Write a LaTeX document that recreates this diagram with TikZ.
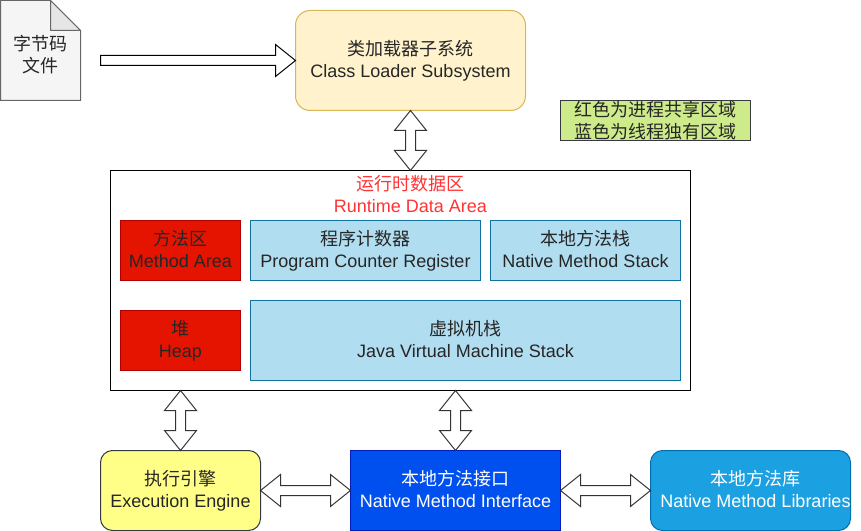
\documentclass[tikz,border=0pt]{standalone}
\usepackage{fontspec}
\setmainfont{Liberation Sans}
\newfontfamily\cjk{Noto Sans CJK SC}
\usetikzlibrary{calc}
\definecolor{loaderfill}{HTML}{FFF2CC}
\definecolor{loaderline}{HTML}{D6B656}
\definecolor{notefill}{HTML}{CDEB8B}
\definecolor{darkline}{HTML}{36393D}
\definecolor{titlered}{HTML}{FF3333}
\definecolor{redfill}{HTML}{E51400}
\definecolor{redline}{HTML}{B20000}
\definecolor{bluefill}{HTML}{B1DDF0}
\definecolor{blueline}{HTML}{10739E}
\definecolor{enginefill}{HTML}{FFFF88}
\definecolor{ifacefill}{HTML}{0050EF}
\definecolor{ifaceline}{HTML}{001DBC}
\definecolor{libfill}{HTML}{1BA1E2}
\definecolor{libline}{HTML}{006EAF}
\definecolor{docfill}{HTML}{F5F5F5}
\definecolor{docfold}{HTML}{E6E6E6}
\definecolor{docline}{HTML}{666666}
\newcommand{\lowline}{\vphantom{gy}}
\tikzset{box/.style 2 args={draw, align=center, inner sep=0pt, outer sep=0pt, line width=0.75pt,
    minimum width=#1*0.75pt, minimum height=#2*0.75pt,
    font=\fontsize{13.5}{16.5}\selectfont}}
\tikzset{redbox/.style={fill=redfill, draw=redline, text=black!85}}
\tikzset{bluebox/.style={fill=bluefill, draw=blueline, text=black!85}}
\tikzset{blockboth/.style={draw=black!80, fill=white, line width=0.75pt, to path={
    -- ($(\tikztostart)!15pt!(\tikztotarget)!12pt!90:(\tikztotarget)$)
    -- ($(\tikztostart)!15pt!(\tikztotarget)!3.75pt!90:(\tikztotarget)$)
    -- ($(\tikztotarget)!15pt!(\tikztostart)!3.75pt!-90:(\tikztostart)$)
    -- ($(\tikztotarget)!15pt!(\tikztostart)!12pt!-90:(\tikztostart)$)
    -- (\tikztotarget)
    -- ($(\tikztotarget)!15pt!(\tikztostart)!12pt!90:(\tikztostart)$)
    -- ($(\tikztotarget)!15pt!(\tikztostart)!3.75pt!90:(\tikztostart)$)
    -- ($(\tikztostart)!15pt!(\tikztotarget)!3.75pt!-90:(\tikztotarget)$)
    -- ($(\tikztostart)!15pt!(\tikztotarget)!12pt!-90:(\tikztotarget)$)
    -- cycle}}}
\tikzset{blockone/.style={draw=black, fill=white, line width=0.75pt, to path={
    -- ($(\tikztostart)!3.75pt!90:(\tikztotarget)$)
    -- ($(\tikztotarget)!15pt!(\tikztostart)!3.75pt!-90:(\tikztostart)$)
    -- ($(\tikztotarget)!15pt!(\tikztostart)!12pt!-90:(\tikztostart)$)
    -- (\tikztotarget)
    -- ($(\tikztotarget)!15pt!(\tikztostart)!12pt!90:(\tikztostart)$)
    -- ($(\tikztotarget)!15pt!(\tikztostart)!3.75pt!90:(\tikztostart)$)
    -- ($(\tikztostart)!3.75pt!-90:(\tikztotarget)$)
    -- cycle}}}

\begin{document}
\begin{tikzpicture}[x=0.75pt, y=-0.75pt]
    \useasboundingbox (-0.5,-0.5) rectangle (860.5,530.5);

    % byte code file
    \node[box={80}{100}, draw=none] (file) at (40,50) {};
    \draw[docline, fill=docfill, line width=0.75pt] (file.north west) -- (50,0) -- (80,30)
        -- (file.south east) -- (file.south west) -- cycle;
    \draw[docline, fill=docfold, line width=0.75pt, line join=round] (50,0) -- (80,30) -- (50,30) -- cycle;
    \node[box={80}{44}, draw=none, text=black!85] (fileText) at (40,54) {{\cjk 字节码}\\{\cjk 文件}};

    \node[box={230}{100}, rounded corners=11pt, fill=loaderfill, draw=loaderline, text=black!85] (loader) at (410,60)
        {{\cjk 类加载器子系统}\\Class Loader Subsystem};
    \node[box={190}{40}, fill=notefill, draw=darkline, text=black!85] (note) at (655,120)
        {{\cjk 红色为进程共享区域}\\{\cjk 蓝色为线程独有区域}};

    % runtime data area
    \node[box={580}{220}, draw=black] (data) at (400,280) {};
    \node[box={160}{44}, draw=none, text=titlered] (dataTitle) at (410,195)
        {{\cjk 运行时数据区}\\Runtime Data Area\lowline};
    \node[box={120}{60}, redbox] (method) at (180,250) {{\cjk 方法区}\\Method Area\lowline};
    \node[box={230}{60}, bluebox] (counter) at (365,250) {{\cjk 程序计数器}\\Program Counter Register};
    \node[box={190}{60}, bluebox] (nativeStack) at (585,250) {{\cjk 本地方法栈}\\Native Method Stack\lowline};
    \node[box={120}{60}, redbox] (heap) at (180,340) {{\cjk 堆}\\Heap};
    \node[box={430}{80}, bluebox] (jvmStack) at (465,340) {{\cjk 虚拟机栈}\\Java Virtual Machine Stack\lowline};

    % bottom row
    \node[box={160}{80}, rounded corners=9pt, fill=enginefill, draw=darkline, text=black!85] (engine) at (180,490)
        {{\cjk 执行引擎}\\Execution Engine};
    \node[box={210}{80}, fill=ifacefill, draw=ifaceline, text=white] (iface) at (455,490)
        {{\cjk 本地方法接口}\\Native Method Interface\lowline};
    \node[box={200}{80}, rounded corners=9pt, fill=libfill, draw=libline, text=white] (libs) at (750,490) {};
    \node[box={190}{44}, draw=none, text=white] (libsText) at (755,490)
        {{\cjk 本地方法库}\\Native Method Libraries\lowline};

    % connectors
    \coordinate (fileTail) at (100,60);
    \coordinate (dataTop) at (loader.south |- data.north);
    \coordinate (dataLeft) at (engine.north |- data.south);
    \coordinate (dataMid) at (iface.north |- data.south);
    \draw[blockone] (fileTail) to (loader.west);
    \draw[blockboth] (loader.south) to (dataTop);
    \draw[blockboth] (dataLeft) to (engine.north);
    \draw[blockboth] (dataMid) to (iface.north);
    \draw[blockboth] (engine.east) to (iface.west);
    \draw[blockboth] (iface.east) to (libs.west);
\end{tikzpicture}
\end{document}
